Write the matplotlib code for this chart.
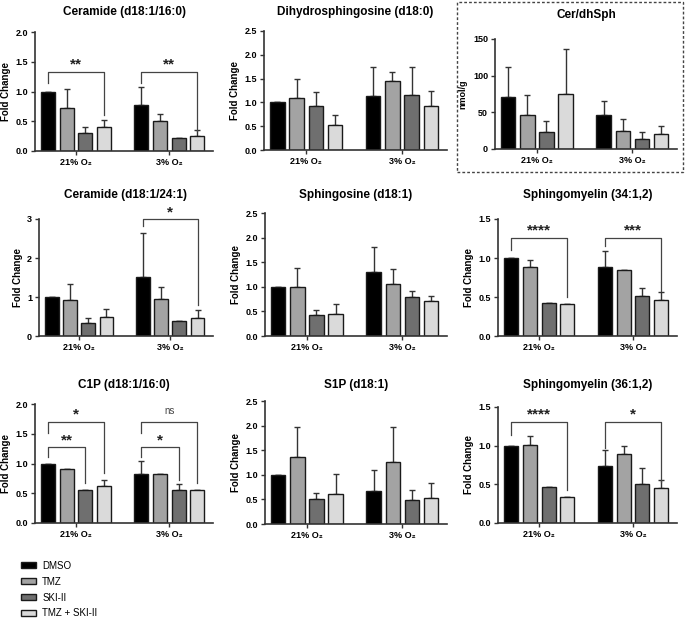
import matplotlib.pyplot as plt
from matplotlib.patches import Patch, Rectangle

plt.rcParams['font.family'] = ['Liberation Sans', 'DejaVu Sans']
plt.rcParams['font.weight'] = 'bold'
plt.rcParams['axes.titleweight'] = 'bold'
plt.rcParams['axes.labelweight'] = 'bold'

treatments = ['DMSO', 'TMZ', 'SKI-II', 'TMZ + SKI-II']
colors = ['#000000', '#a3a3a3', '#6f6f6f', '#dadada']
groups = ['21% O₂', '3% O₂']
xpos = [0, 1, 2, 3, 5, 6, 7, 8]

# bar order: DMSO, TMZ, SKI-II, TMZ+SKI-II at 21% O2, then the same at 3% O2
cer16_mean = [1.00, 0.73, 0.30, 0.41, 0.77, 0.51, 0.22, 0.26]
cer16_err = [0, 0.31, 0.11, 0.11, 0.30, 0.11, 0, 0.10]
dhsph_mean = [1.00, 1.10, 0.92, 0.52, 1.14, 1.44, 1.15, 0.93]
dhsph_err = [0, 0.40, 0.30, 0.21, 0.60, 0.20, 0.60, 0.30]
ratio_mean = [71, 46, 23, 75, 46, 25, 14, 20]
ratio_err = [41, 28, 15, 62, 20, 16, 9, 11]
cer24_mean = [1.00, 0.92, 0.34, 0.48, 1.52, 0.95, 0.39, 0.45]
cer24_err = [0, 0.41, 0.12, 0.21, 1.13, 0.31, 0, 0.21]
sph_mean = [1.00, 0.99, 0.42, 0.44, 1.30, 1.05, 0.80, 0.71]
sph_err = [0, 0.39, 0.11, 0.21, 0.51, 0.31, 0.11, 0.11]
sm34_mean = [1.00, 0.88, 0.42, 0.41, 0.88, 0.84, 0.51, 0.46]
sm34_err = [0, 0.10, 0, 0, 0.21, 0, 0.10, 0.10]
c1p_mean = [1.00, 0.91, 0.56, 0.62, 0.83, 0.83, 0.55, 0.56]
c1p_err = [0, 0, 0, 0.11, 0.21, 0, 0.11, 0]
s1p_mean = [1.00, 1.36, 0.51, 0.61, 0.68, 1.26, 0.49, 0.53]
s1p_err = [0, 0.61, 0.11, 0.40, 0.41, 0.71, 0.21, 0.31]
sm36_mean = [1.00, 1.01, 0.46, 0.34, 0.74, 0.89, 0.50, 0.45]
sm36_err = [0, 0.11, 0, 0, 0.21, 0.10, 0.21, 0.11]

# significance brackets: (from bar, to bar, top, left leg end, right leg end, label)
cer16_sig = [(0, 3, 1.33, 1.14, 0.60, '**'), (4, 7, 1.33, 1.14, 0.34, '**')]
cer24_sig = [(4, 7, 3.0, 2.83, 0.79, '*')]
sm34_sig = [(0, 3, 1.26, 1.10, 0.50, '****'), (4, 7, 1.26, 1.15, 0.58, '***')]
c1p_sig = [(0, 3, 1.70, 1.51, 0.84, '*'), (0, 2, 1.27, 1.11, 0.67, '**'),
           (4, 7, 1.70, 1.51, 0.67, 'ns'), (4, 6, 1.27, 1.11, 0.72, '*')]
sm36_sig = [(0, 3, 1.31, 1.14, 0.43, '****'), (4, 7, 1.31, 0.97, 0.53, '*')]

W, H = 685, 620
panels = [
    ('Ceramide (d18:1/16:0)', cer16_mean, cer16_err, cer16_sig, 2.0, 0.5, 'Fold Change', (35, 32, 213, 151)),
    ('Dihydrosphingosine (d18:0)', dhsph_mean, dhsph_err, [], 2.5, 0.5, 'Fold Change', (264, 31, 447, 150)),
    ('Cer/dhSph', ratio_mean, ratio_err, [], 150, 50, 'nmol/g', (495, 39, 677, 149)),
    ('Ceramide (d18:1/24:1)', cer24_mean, cer24_err, cer24_sig, 3, 1, 'Fold Change', (39, 219, 213, 336)),
    ('Sphingosine (d18:1)', sph_mean, sph_err, [], 2.5, 0.5, 'Fold Change', (265, 213, 447, 336)),
    ('Sphingomyelin (34:1,2)', sm34_mean, sm34_err, sm34_sig, 1.5, 0.5, 'Fold Change', (498, 219, 677, 336)),
    ('C1P (d18:1/16:0)', c1p_mean, c1p_err, c1p_sig, 2.0, 0.5, 'Fold Change', (35, 404, 213, 523)),
    ('S1P (d18:1)', s1p_mean, s1p_err, [], 2.5, 0.5, 'Fold Change', (265, 401, 447, 524)),
    ('Sphingomyelin (36:1,2)', sm36_mean, sm36_err, sm36_sig, 1.5, 0.5, 'Fold Change', (498, 407, 677, 523)),
]
title_y = [12, 12, 15, 195, 195, 195, 385, 385, 385]

fig = plt.figure(figsize=(W / 100, H / 100), dpi=100)

for (title, mean, err, sig, ymax, step, ylab, box), ty in zip(panels, title_y):
    x0, y0, x1, y1 = box
    ax = fig.add_axes([x0 / W, 1 - y1 / H, (x1 - x0) / W, (y1 - y0) / H])
    ax.bar(xpos, mean, width=0.75, color=colors * 2, edgecolor='#1a1a1a', linewidth=1.0, zorder=2)
    ax.errorbar(xpos, mean, yerr=[[0] * 8, err], fmt='none', ecolor='#333333',
                elinewidth=1.0, capsize=2.5, capthick=1.0, zorder=1)
    for a, b, top, l, r, lab in sig:
        xa, xb = xpos[a], xpos[b]
        ax.plot([xa, xa, xb, xb], [l, top, top, r], color='#444444', lw=0.9, clip_on=False)
        if lab == 'ns':
            ax.annotate(lab, ((xa + xb) / 2, top), xytext=(0, 4), textcoords='offset points',
                        ha='center', va='bottom', fontsize=7, fontweight='normal', color='#444444')
        else:
            ax.annotate(lab, ((xa + xb) / 2, top), xytext=(0, 0), textcoords='offset points',
                        ha='center', va='bottom', fontsize=11, color='#222222')
    ax.set_xlim(-0.7, 8.85)
    ax.set_ylim(0, ymax)
    ticks = [i * step for i in range(int(round(ymax / step)) + 1)]
    ax.set_yticks(ticks)
    if step < 1:
        ax.set_yticklabels([f'{t:.1f}' for t in ticks])
    else:
        ax.set_yticklabels([f'{t:g}' for t in ticks])
    ax.set_xticks([1.5, 6.5])
    ax.set_xticklabels(groups)
    ax.tick_params(labelsize=6.5, width=1.0, length=3, color='#333333', pad=2)
    if ylab == 'Fold Change':
        ax.set_ylabel(ylab, fontsize=7, labelpad=3)
    else:
        ax.set_ylabel(ylab, fontsize=6.5, labelpad=4)
    for s in ['top', 'right']:
        ax.spines[s].set_visible(False)
    for s in ['left', 'bottom']:
        ax.spines[s].set_linewidth(1.2)
        ax.spines[s].set_color('#333333')
    fig.text((x0 + x1) / 2 / W, 1 - ty / H, title, ha='center', va='center', fontsize=8.5)

fig.add_artist(Rectangle((457 / W, 1 - 172 / H), 226 / W, 170 / H, transform=fig.transFigure,
                         fill=False, linestyle=(0, (2, 1.5)), linewidth=1.0, edgecolor='#444444'))

handles = [Patch(facecolor=c, edgecolor='#1a1a1a', linewidth=1.0) for c in colors]
fig.legend(handles, treatments, loc='upper left', bbox_to_anchor=(16 / W, 1 - 556 / H),
           frameon=False, prop={'size': 7, 'weight': 'normal'}, handlelength=1.6,
           handleheight=0.55, labelspacing=0.6, handletextpad=0.6, borderpad=0)

fig.savefig('out.png', dpi=100)
